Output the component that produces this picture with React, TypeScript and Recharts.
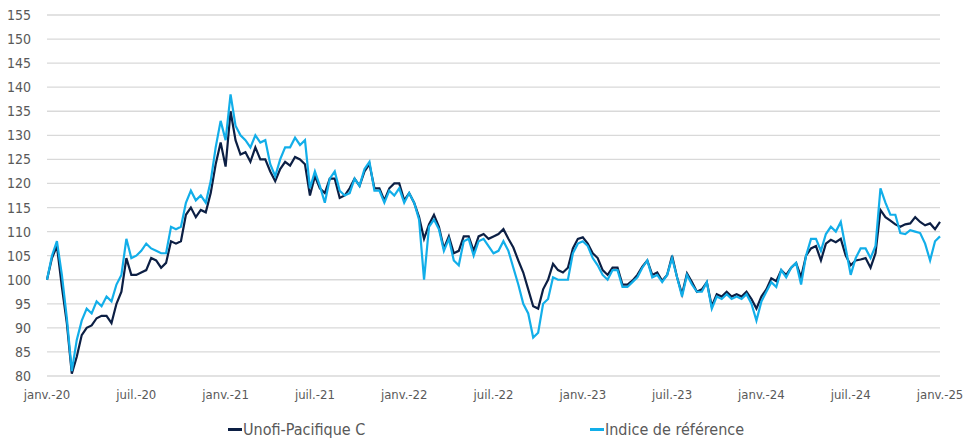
import { CartesianGrid, Line, LineChart, XAxis, YAxis } from "recharts";

// one sample every ~10 days, janv.-20 -> janv.-25 (3 samples per month)
const SAMPLES_PER_MONTH = 3;

const fund = [
  100, 104.5, 107, 98.5, 91, 80.5, 84, 88.5, 90, 90.5,
  92, 92.5, 92.5, 91, 95, 97.5, 104.5, 101, 101, 101.5,
  102, 104.5, 104, 102.5, 103.5, 108, 107.5, 108, 113.5, 115,
  113, 114.5, 114, 118, 124, 128.5, 123.5, 135, 129, 126,
  126.5, 124.5, 127.5, 125, 125, 122.5, 120.5, 123, 124.5, 123.7,
  125.5, 125, 124, 117.5, 121.5, 119, 118, 121, 121, 117,
  117.5, 119, 121, 119.5, 122.5, 124, 119, 119, 116.5, 119,
  120, 120, 116.5, 118, 116, 113, 108.5, 111.5, 113.5, 111,
  106.5, 109, 105.5, 106, 109, 109, 106, 109, 109.5, 108.5,
  109, 109.5, 110.5, 108.5, 106.7, 104, 101.5, 98, 94.5, 94,
  98, 100, 103.3, 102, 101.5, 102.5, 106.5, 108.5, 108.8, 107.5,
  105.5, 104.5, 102, 101, 102.5, 102.5, 99, 99, 99.8, 101,
  102.7, 104, 101, 101.5, 99.8, 101, 105, 100.5, 97, 101.3,
  99.5, 97.5, 98, 99.5, 94.5, 97, 96.5, 97.5, 96.5, 97,
  96.5, 97.5, 96, 94, 96.5, 98, 100.3, 99.7, 102, 101,
  102.5, 103.5, 100.5, 105, 106.5, 107, 104, 107.5, 108.3, 107.8,
  108.5, 105, 103, 104, 104.2, 104.5, 102.5, 105.5, 114.5, 113,
  112.3, 111.5, 111, 111.5, 111.7, 113, 112, 111.3, 111.7, 110.5,
  112,
];

const benchmark = [
  100, 105, 108, 101, 92, 81, 87.5, 91.5, 94, 93,
  95.5, 94.5, 96.5, 95.5, 99, 101, 108.5, 104.5, 105, 106,
  107.5, 106.5, 106, 105.5, 105.5, 111, 110.5, 111, 116, 118.5,
  116.5, 117.5, 116, 120.5, 127.5, 133, 129, 138.5, 132, 130,
  129, 127.5, 130, 128.5, 129, 124, 121.5, 125, 127.5, 127.5,
  129.5, 128, 129, 119, 122.5, 119.5, 116, 121, 122.5, 118.5,
  117.5, 118, 121, 119.5, 123, 124.5, 118.5, 118.5, 116, 118.5,
  117.5, 119, 116, 118, 116, 112.5, 100, 111, 112.5, 110.5,
  106, 108.5, 104, 103, 108, 108.5, 105, 108, 108.5, 107,
  105.5, 106, 108, 106, 102.5, 99, 95, 93, 88, 89,
  95, 96, 100.5, 100, 100, 100, 105.5, 107.5, 108, 107,
  104.5, 103, 101, 100, 102, 102, 98.5, 98.5, 99.5, 100.5,
  102.5, 104, 100.5, 101, 99.5, 101, 104.5, 100.5, 96.5, 101,
  99, 97.5, 97.5, 99.5, 94, 96.5, 96, 97, 96, 96.5,
  96, 97, 95, 91.5, 95.5, 97.5, 99.5, 98.5, 102, 100.5,
  102.5, 103.5, 99, 105, 108.5, 108.5, 106, 109.5, 111, 110,
  112, 106.5, 101, 104.5, 106.5, 106.5, 104.5, 107, 119, 116,
  113.5, 113.5, 109.7, 109.5, 110.3, 110, 109.7, 107.5, 104, 108,
  109,
];

const yTicks = [80, 85, 90, 95, 100, 105, 110, 115, 120, 125, 130, 135, 140, 145, 150, 155];
const xTicks = [0, 6, 12, 18, 24, 30, 36, 42, 48, 54, 60];
const xTickLabels = [
  "janv.-20", "juil.-20", "janv.-21", "juil.-21", "janv.-22", "juil.-22",
  "janv.-23", "juil.-23", "janv.-24", "juil.-24", "janv.-25",
];

const FUND_NAME = "Unofi-Pacifique C";
const BENCH_NAME = "Indice de référence";
const DARK = "#0c1f44";
const LIGHT = "#12aee9";
const FONT = "'Liberation Sans Narrow', 'DejaVu Sans Condensed', 'Open Sans', sans-serif";

const rows = fund.map((v, i) => ({
  m: i / SAMPLES_PER_MONTH,
  fund: v,
  bench: benchmark[i],
}));

export default function App() {
  return (
    <div style={{ position: "absolute", left: 0, top: 0, width: 963, height: 438, background: "#fff", fontFamily: FONT }}>
      <LineChart width={963} height={438} data={rows} margin={{ top: 15, right: 23, left: 0, bottom: 37 }}>
        <CartesianGrid vertical={false} stroke="#d9d9d9" strokeWidth={1.3} />
        <XAxis
          dataKey="m"
          type="number"
          domain={[0, 60]}
          ticks={xTicks}
          tickFormatter={(v) => xTickLabels[xTicks.indexOf(v)] ?? ""}
          axisLine={false}
          tickLine={false}
          tickMargin={8}
          height={25}
          interval={0}
          tick={{ fill: "#595959", fontSize: 13, fontFamily: FONT }}
        />
        <YAxis
          domain={[80, 155]}
          ticks={yTicks}
          axisLine={false}
          tickLine={false}
          tickMargin={10}
          width={47}
          interval={0}
          tick={{ fill: "#595959", fontSize: 14, fontFamily: FONT }}
        />
        <Line dataKey="fund" stroke={DARK} strokeWidth={2.2} dot={false} isAnimationActive={false} />
        <Line dataKey="bench" stroke={LIGHT} strokeWidth={2.2} dot={false} isAnimationActive={false} />
      </LineChart>

      {/* legend */}
      <div style={{ position: "absolute", top: 420, left: 228, display: "flex", alignItems: "center", fontSize: 16, color: "#595959" }}>
        <span style={{ display: "inline-block", width: 14, height: 2.5, background: DARK, marginRight: 1 }} />
        <span>{FUND_NAME}</span>
      </div>
      <div style={{ position: "absolute", top: 420, left: 590, display: "flex", alignItems: "center", fontSize: 16, color: "#595959" }}>
        <span style={{ display: "inline-block", width: 14, height: 2.5, background: LIGHT, marginRight: 1 }} />
        <span>{BENCH_NAME}</span>
      </div>
    </div>
  );
}
